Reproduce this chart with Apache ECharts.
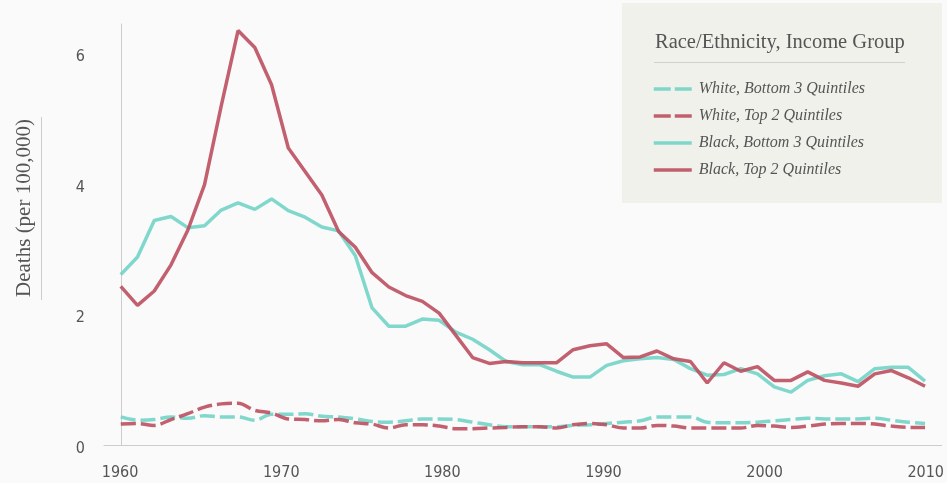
<!DOCTYPE html>
<html lang="en">
<head>
    <meta charset="UTF-8">
    <title>Deaths by race/ethnicity and income group</title>
    <script src="https://cdn.jsdelivr.net/npm/echarts@6/dist/echarts.min.js"></script>
    <style>
        body { margin: 0; background: #fafafa; }
    </style>
</head>
<body>
<div id="main" style="width: 947px;height:483px;"></div>
<script type="text/javascript">
    // values, one point per step (49 points, 1960 -> 2010)
    var whiteBottom3 = [0.43, 0.38, 0.39, 0.43, 0.41, 0.45, 0.43, 0.43, 0.38, 0.47,
        0.47, 0.48, 0.44, 0.43, 0.40, 0.36, 0.35, 0.37, 0.40, 0.40,
        0.39, 0.35, 0.31, 0.28, 0.28, 0.28, 0.28, 0.30, 0.31, 0.33,
        0.35, 0.37, 0.43, 0.43, 0.43, 0.35, 0.34, 0.34, 0.35, 0.37,
        0.39, 0.41, 0.40, 0.40, 0.40, 0.41, 0.38, 0.35, 0.33];
    var whiteTop2 = [0.32, 0.33, 0.30, 0.39, 0.48, 0.58, 0.63, 0.64, 0.53, 0.49,
        0.40, 0.39, 0.37, 0.39, 0.34, 0.32, 0.26, 0.31, 0.31, 0.29,
        0.25, 0.25, 0.26, 0.27, 0.28, 0.28, 0.26, 0.31, 0.33, 0.31,
        0.26, 0.26, 0.30, 0.29, 0.26, 0.26, 0.26, 0.26, 0.30, 0.29,
        0.27, 0.29, 0.32, 0.33, 0.33, 0.32, 0.29, 0.27, 0.27];
    var blackBottom3 = [2.61, 2.88, 3.44, 3.50, 3.33, 3.36, 3.60, 3.71, 3.61, 3.77,
        3.59, 3.49, 3.34, 3.28, 2.90, 2.10, 1.82, 1.82, 1.93, 1.91,
        1.73, 1.62, 1.46, 1.28, 1.23, 1.23, 1.13, 1.04, 1.04, 1.22,
        1.29, 1.32, 1.34, 1.31, 1.17, 1.07, 1.08, 1.17, 1.09, 0.89,
        0.81, 0.99, 1.06, 1.09, 0.97, 1.17, 1.19, 1.19, 0.98];
    var blackTop2 = [2.43, 2.14, 2.36, 2.76, 3.29, 3.99, 5.20, 6.35, 6.09, 5.52,
        4.55, 4.19, 3.83, 3.27, 3.03, 2.64, 2.42, 2.29, 2.20, 2.02,
        1.68, 1.34, 1.25, 1.28, 1.26, 1.26, 1.26, 1.46, 1.52, 1.55,
        1.34, 1.35, 1.44, 1.32, 1.28, 0.95, 1.26, 1.13, 1.20, 0.99,
        0.99, 1.12, 0.99, 0.95, 0.90, 1.09, 1.14, 1.03, 0.90];
    var yearTicks = [1960, 1970, 1980, 1990, 2000, 2010];
    var valueTicks = [0, 2, 4, 6];
    var seriesNames = ['White, Bottom 3 Quintiles', 'White, Top 2 Quintiles',
        'Black, Bottom 3 Quintiles', 'Black, Top 2 Quintiles'];

    var teal = '#72d4c7';
    var red = '#bd4f61';
    var serif = "'Liberation Serif', serif";
    var narrow = "'Liberation Sans Narrow', 'DejaVu Sans Condensed', sans-serif";

    function toPoints(arr) {
        return arr.map(function (v, i) { return [i, v]; });
    }

    function makeSeries(name, values, color, dashed) {
        return {
            name: name,
            type: 'line',
            xAxisIndex: 0,
            data: toPoints(values),
            symbol: 'none',
            smooth: dashed ? 0.35 : false,
            lineStyle: {
                color: color,
                width: 3.5,
                opacity: 0.9,
                type: dashed ? [15, 5] : 'solid'
            },
            itemStyle: {color: color},
            emphasis: {disabled: true}
        };
    }

    function legendItem(name, color, dashed) {
        return {
            name: name,
            itemStyle: {opacity: 0},
            lineStyle: {color: color, width: 3.5, opacity: 0.9, type: dashed ? [17, 4] : 'solid'}
        };
    }

    var myChart = echarts.init(document.getElementById('main'));
    var option = {
        backgroundColor: '#fafafa',
        animation: false,
        grid: {left: 104, right: 4, top: 24, bottom: 38},
        graphic: [
            {
                type: 'rect',
                z: 0,
                shape: {x: 622, y: 3, width: 320, height: 200},
                style: {fill: '#f1f1ec'}
            },
            {
                type: 'text',
                x: 655,
                y: 43,
                style: {
                    text: 'Race/Ethnicity, Income Group',
                    font: '20.5px ' + serif,
                    fill: '#555',
                    textVerticalAlign: 'middle'
                }
            },
            {
                type: 'line',
                shape: {x1: 654, y1: 62.5, x2: 905, y2: 62.5},
                style: {stroke: '#d0d0cc', lineWidth: 1}
            },
            {
                type: 'text',
                x: 24,
                y: 208,
                rotation: Math.PI / 2,
                style: {
                    text: 'Deaths (per 100,000)',
                    font: '21px ' + serif,
                    fill: '#555',
                    textAlign: 'center',
                    textVerticalAlign: 'middle'
                }
            },
            {
                type: 'line',
                shape: {x1: 41.5, y1: 117, x2: 41.5, y2: 300},
                style: {stroke: '#ccc', lineWidth: 1}
            }
        ],
        legend: {
            orient: 'vertical',
            left: 647,
            top: 76,
            itemWidth: 38,
            itemHeight: 14,
            itemGap: 11,
            data: [
                legendItem(seriesNames[0], teal, true),
                legendItem(seriesNames[1], red, true),
                legendItem(seriesNames[2], teal, false),
                legendItem(seriesNames[3], red, false)
            ],
            textStyle: {
                fontFamily: serif,
                fontStyle: 'italic',
                fontSize: 16,
                color: '#555',
                padding: [0, 0, 0, 2]
            }
        },
        xAxis: [
            {
                // one step per data point
                type: 'value',
                min: -1,
                max: 49,
                show: false
            },
            {
                type: 'value',
                min: 1959,
                max: 2011,
                position: 'bottom',
                axisLine: {lineStyle: {color: '#ccc'}},
                axisTick: {show: false},
                splitLine: {show: false},
                axisLabel: {
                    customValues: yearTicks,
                    formatter: function (v) { return String(v); },
                    margin: 20,
                    fontFamily: narrow,
                    fontSize: 16,
                    color: '#555'
                }
            }
        ],
        yAxis: {
            type: 'value',
            min: 0,
            max: 6.45,
            axisLine: {show: true, lineStyle: {color: '#ccc'}},
            axisTick: {show: false},
            splitLine: {show: false},
            axisLabel: {
                customValues: valueTicks,
                margin: 19,
                formatter: function (v) { return '{t|' + v + '}'; },
                rich: {
                    t: {
                        padding: [7, 0, 0, 0],
                        fontFamily: narrow,
                        fontSize: 16,
                        color: '#555'
                    }
                }
            }
        },
        series: [
            makeSeries(seriesNames[0], whiteBottom3, teal, true),
            makeSeries(seriesNames[1], whiteTop2, red, true),
            makeSeries(seriesNames[2], blackBottom3, teal, false),
            makeSeries(seriesNames[3], blackTop2, red, false)
        ]
    };
    myChart.setOption(option);
</script>
</body>
</html>
